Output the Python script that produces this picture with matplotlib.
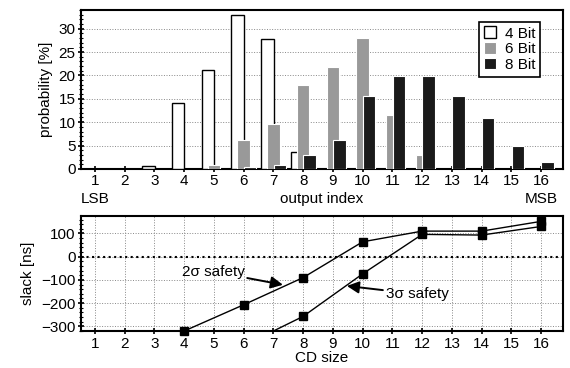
import numpy as np
import matplotlib
matplotlib.use("Agg")
import matplotlib.pyplot as plt
from matplotlib.ticker import MultipleLocator

plt.rcParams['font.family'] = ['Liberation Sans', 'DejaVu Sans']
plt.rcParams['font.size'] = 11

# ── data ──────────────────────────────────────────────────────────────────────
idx = np.arange(1, 17)
prob_4bit = np.array([0, 0, 0.7, 14.0, 21.1, 32.9, 27.8, 3.6, 0, 0, 0, 0, 0, 0, 0, 0])
prob_6bit = np.array([0, 0, 0, 0, 0.9, 6.2, 9.5, 17.9, 21.7, 27.9, 11.6, 3.0, 0, 0, 0, 0])
prob_8bit = np.array([0, 0, 0, 0, 0, 0.4, 0.9, 3.0, 6.2, 15.6, 19.8, 19.9, 15.7, 10.9, 5.0, 1.5])
bit_labels = ["4 Bit", "6 Bit", "8 Bit"]

cd_2s = [4, 6, 8, 10, 12, 14, 16]
slack_2s = [-320, -207, -90, 64, 110, 110, 152]
cd_3s = [6, 8, 10, 12, 14, 16]
slack_3s = [-383, -257, -74, 96, 93, 130]

fig = plt.figure(figsize=(5.7, 3.68), dpi=100)
ax1 = fig.add_axes([0.142, 0.541, 0.846, 0.432])
ax2 = fig.add_axes([0.142, 0.1005, 0.846, 0.3125])

# ── top: probability bars (zero entries are not drawn) ───────────────────────
w = 0.42
for vals, off, fc, ec, lw, lab, z in [
    (prob_4bit, -0.2, "white", "black", 1.0, bit_labels[0], 3),
    (prob_6bit, 0.0, "#999999", "white", 0.8, bit_labels[1], 4),
    (prob_8bit, 0.22, "#1a1a1a", "white", 0.8, bit_labels[2], 5),
]:
    m = vals > 0
    ax1.bar(idx[m] + off, vals[m], w, color=fc, edgecolor=ec, lw=lw,
            label=lab, zorder=z)

ax1.set_xlim(0.53, 16.74)
ax1.set_ylim(0, 34)
ax1.set_xticks(idx)
ax1.yaxis.set_major_locator(MultipleLocator(5))
ax1.yaxis.set_minor_locator(MultipleLocator(1))
ax1.grid(axis="y", ls=":", color="#888888", lw=0.7, zorder=0)
ax1.set_ylabel("probability [%]")
ax1.set_xlabel("output index")
ax1.xaxis.set_label_coords(0.5, -0.145)
ax1.text(1, -0.145, "LSB", transform=ax1.get_xaxis_transform(), ha="center", va="top")
ax1.text(16, -0.145, "MSB", transform=ax1.get_xaxis_transform(), ha="center", va="top")
leg = ax1.legend(loc="upper right", bbox_to_anchor=(0.952, 0.925), fancybox=False,
                 edgecolor="black", framealpha=1, handlelength=0.8, handleheight=0.8,
                 borderpad=0.3, labelspacing=0.1, handletextpad=0.6, borderaxespad=0)
leg.get_frame().set_linewidth(1.2)

# ── bottom: slack vs CD size ──────────────────────────────────────────────────
ax2.axhline(0, color="black", ls=":", lw=1.5, zorder=2)
ax2.plot(cd_2s, slack_2s, color="black", lw=1.0, marker="s", ms=5.5,
         clip_on=False, zorder=4)
ax2.plot(cd_3s, slack_3s, color="black", lw=1.0, marker="s", ms=5.5, zorder=4)
ax2.set_xlim(0.53, 16.74)
ax2.set_ylim(-320, 175)
ax2.set_xticks(idx)
ax2.set_yticks([-300, -200, -100, 0, 100])
ax2.yaxis.set_minor_locator(MultipleLocator(20))
ax2.grid(True, ls=":", color="#888888", lw=0.7, zorder=0)
ax2.set_ylabel("slack [ns]")
ax2.set_xlabel("CD size", labelpad=0)

arrow = dict(arrowstyle="-|>", color="black", lw=1.4, mutation_scale=18,
             shrinkA=0, shrinkB=0)
ax2.annotate("2σ safety", xy=(7.32, -121), xytext=(4.97, -64),
             ha="center", va="center", arrowprops=arrow)
ax2.annotate("3σ safety", xy=(9.47, -126), xytext=(11.83, -161),
             ha="center", va="center", arrowprops=arrow)

for ax in (ax1, ax2):
    for s in ax.spines.values():
        s.set_linewidth(1.5)
    ax.tick_params(which="major", direction="inout", length=5, width=1.2, pad=1.5)
    ax.tick_params(which="minor", direction="inout", length=3, width=0.8)
    ax.tick_params(axis="x", which="minor", bottom=False)

fig.savefig("out.png", dpi=100)
